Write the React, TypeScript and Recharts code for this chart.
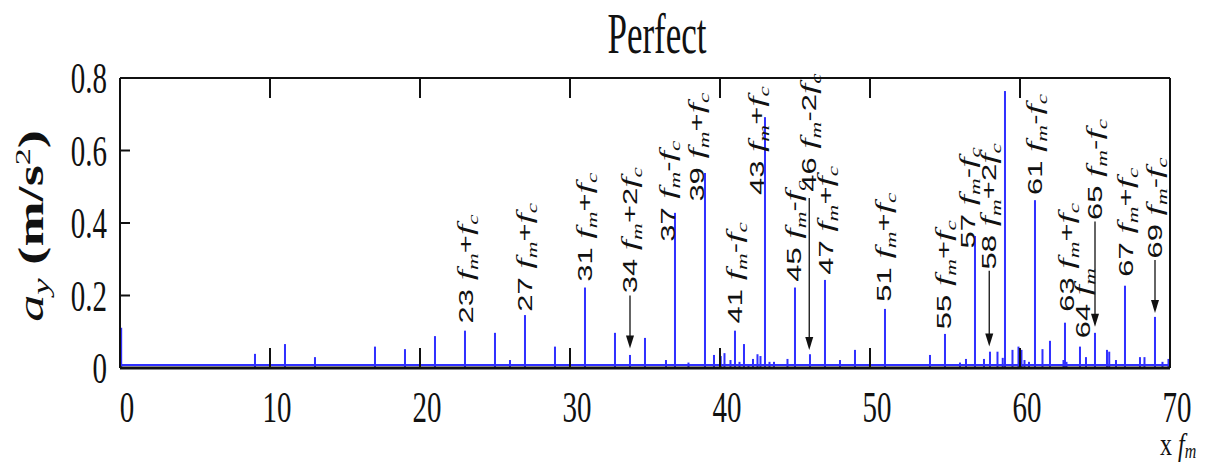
import React from 'react';
import { ComposedChart, Bar, Scatter, XAxis, YAxis, ReferenceLine } from 'recharts';

// axis ticks
const xTicks = [0, 10, 20, 30, 40, 50, 60, 70];
const yTicks = [0, 0.2, 0.4, 0.6, 0.8];
const yTickLabels = ['0', '0.2', '0.4', '0.6', '0.8'];

// spectrum lines, x in multiples of f_m, amplitude in m/s^2
const peakX = [
  0.08, 9, 11, 13, 17, 19, 21, 23, 25, 26, 27, 29, 31, 33, 34, 35, 36.4, 37, 37.9, 39,
  39.6, 40.05, 40.3, 40.7, 41, 41.3, 41.6, 41.9, 42.2, 42.5, 42.7, 43, 43.3, 43.6, 44.5,
  45, 46, 47, 48, 49, 50, 51, 54, 55, 56, 56.4, 57, 57.6, 58, 58.5, 58.85, 59, 59.5,
  59.9, 60.1, 60.3, 60.6, 61, 61.5, 62, 62.9, 63, 63.1, 64, 64.4, 65, 65.8, 65.95,
  66.4, 67, 68, 68.3, 69, 69.5, 69.9,
];
const peakY = [
  0.111, 0.039, 0.066, 0.03, 0.059, 0.052, 0.088, 0.103, 0.097, 0.022, 0.146, 0.059, 0.222, 0.097, 0.036, 0.083, 0.022, 0.428, 0.015, 0.538,
  0.036, 0.033, 0.041, 0.022, 0.103, 0.017, 0.066, 0.011, 0.025, 0.038, 0.033, 0.692, 0.017, 0.017, 0.025,
  0.222, 0.038, 0.243, 0.022, 0.05, 0.019, 0.163, 0.036, 0.094, 0.015, 0.025, 0.364, 0.025, 0.045, 0.045, 0.028, 0.764, 0.05,
  0.059, 0.05, 0.022, 0.017, 0.463, 0.052, 0.075, 0.022, 0.125, 0.017, 0.059, 0.03, 0.097, 0.05, 0.045,
  0.022, 0.227, 0.03, 0.03, 0.141, 0.017, 0.025,
];

// annotations: harmonic number, sideband term, where the text starts
const annN = [23, 27, 31, 34, 37, 39, 41, 43, 45, 46, 47, 51, 55, 57, 58, 61, 63, 64, 65, 67, 69];
const annTerm = ['+', '+', '+', '+2', '-', '+', '-', '+', '-', '-2', '+', '+', '+', '-', '+2', '-', '+', '', '-', '+', '-'];
const annX = [23.05, 27, 31, 34, 36.5, 38.47, 41.02, 42.45, 44.9, 45.95, 47.05, 50.95, 54.95, 56.5, 57.95, 61, 63.1, 64.2, 65, 67.05, 69];
const annY = [0.123, 0.155, 0.238, 0.206, 0.348, 0.459, 0.123, 0.477, 0.238, 0.486, 0.257, 0.183, 0.107, 0.33, 0.272, 0.477, 0.155, 0.082, 0.408, 0.252, 0.302];

// arrows pointing at the weak lines
const arrowX = [34, 45.95, 57.95, 65, 69];
const arrowFrom = [0.2, 0.469, 0.268, 0.404, 0.298];
const arrowTo = [0.054, 0.05, 0.059, 0.114, 0.152];

const data = peakX.map((x, i) => ({ x, y: peakY[i] }));
const annData = annN.map((n, i) => ({ x: annX[i], y: annY[i], n, term: annTerm[i] }));

const S = 1.55; // the original figure is stretched vertically
const BLUE = '#3030ff';
const INK = '#111';
const SERIF = '"Liberation Serif", "Times New Roman", serif';
const SANS = '"Liberation Sans", Arial, sans-serif';

const BottomTick = (p: any) => {
  const { x, y, payload } = p;
  return (
    <g>
      <line x1={x} x2={x} y1={y} y2={y - 20} stroke={INK} strokeWidth={2} />
      <text transform={`translate(${x + 7},${y + 54}) scale(1,${S})`} textAnchor="middle" fontFamily={SERIF} fontSize={29} fill={INK}>
        {payload.value}
      </text>
    </g>
  );
};

const TopTick = (p: any) => {
  const { x, y } = p;
  return <line x1={x} x2={x} y1={y} y2={y + 20} stroke={INK} strokeWidth={2} />;
};

const LeftTick = (p: any) => {
  const { x, y, payload } = p;
  const label = yTickLabels[yTicks.indexOf(payload.value)];
  return (
    <g>
      <line x1={x} x2={x + 10} y1={y} y2={y} stroke={INK} strokeWidth={2} />
      <text transform={`translate(${x - 13},${y + 15}) scale(1,${S})`} textAnchor="end" fontFamily={SERIF} fontSize={29} fill={INK}>
        {label}
      </text>
    </g>
  );
};

const RightTick = (p: any) => {
  const { x, y } = p;
  return <line x1={x} x2={x - 10} y1={y} y2={y} stroke={INK} strokeWidth={2} />;
};

// thin stem centred on the bar slot
const Stem = (p: any) => {
  const { x, y, width, height } = p;
  if (x == null || y == null) return <g />;
  return <rect x={x + (width || 0) / 2 - 1} y={y} width={2} height={Math.max(height, 0)} fill={BLUE} />;
};

const AnnLabel = (p: any) => {
  const { cx, cy, payload } = p;
  if (cx == null || cy == null) return <g />;
  const term: string = payload.term;
  const sign = term.charAt(0);
  const two = term.length > 1;
  return (
    <text transform={`translate(${cx + 7},${cy}) scale(1,${S}) rotate(-90)`} fontFamily={SANS} fontSize={20} fill={INK}>
      <tspan>{payload.n} </tspan>
      <tspan fontFamily={SERIF} fontStyle="italic" fontSize={24}>f</tspan>
      <tspan fontFamily={SERIF} fontStyle="italic" fontSize={15} dy={5}>m</tspan>
      {term !== '' && (
        <>
          <tspan dy={-5}>{sign === '+' ? '+' : '-'}{two ? '2' : ''}</tspan>
          <tspan fontFamily={SERIF} fontStyle="italic" fontSize={24}>f</tspan>
          <tspan fontFamily={SERIF} fontStyle="italic" fontSize={15} dy={5}>c</tspan>
        </>
      )}
    </text>
  );
};

const ArrowShape = (p: any) => {
  const { x1, y1, x2, y2 } = p;
  return (
    <g>
      <line x1={x1} x2={x2} y1={y1} y2={y2 - 10} stroke={INK} strokeWidth={1.3} />
      <polygon points={`${x2},${y2} ${x2 - 4},${y2 - 13} ${x2 + 4},${y2 - 13}`} fill={INK} />
    </g>
  );
};

export default function App() {
  return (
    <div style={{ position: 'absolute', left: 0, top: 0, width: 1215, height: 468, background: '#fff' }}>
      <ComposedChart width={1215} height={468} data={data} margin={{ top: 77, right: 44, bottom: 99, left: 119 }}>
        <ReferenceLine y={0.008} stroke={BLUE} strokeWidth={2} />
        <Bar dataKey="y" barSize={2} fill={BLUE} shape={(p: any) => <Stem {...p} />} isAnimationActive={false} />
        <Scatter data={annData} dataKey="y" shape={(p: any) => <AnnLabel {...p} />} isAnimationActive={false} />
        {arrowX.map((x, i) => (
          <ReferenceLine
            key={`arrow-${x}`}
            segment={[{ x, y: arrowFrom[i] }, { x, y: arrowTo[i] }]}
            shape={(p: any) => <ArrowShape {...p} />}
            ifOverflow="visible"
          />
        ))}
        <XAxis
          dataKey="x"
          type="number"
          domain={[0, 70]}
          ticks={xTicks}
          height={1}
          tickSize={0}
          tickMargin={0}
          tick={<BottomTick />}
          axisLine={{ stroke: INK, strokeWidth: 3 }}
        />
        <XAxis
          xAxisId="top"
          orientation="top"
          dataKey="x"
          type="number"
          domain={[0, 70]}
          ticks={xTicks}
          height={1}
          tickSize={0}
          tickMargin={0}
          tick={<TopTick />}
          axisLine={{ stroke: INK, strokeWidth: 2 }}
        />
        <YAxis
          dataKey="y"
          type="number"
          domain={[0, 0.8]}
          ticks={yTicks}
          width={1}
          tickSize={0}
          tickMargin={0}
          tick={<LeftTick />}
          axisLine={{ stroke: INK, strokeWidth: 2 }}
        />
        <YAxis
          yAxisId="right"
          orientation="right"
          type="number"
          domain={[0, 0.8]}
          ticks={yTicks}
          width={1}
          tickSize={0}
          tickMargin={0}
          tick={<RightTick />}
          axisLine={{ stroke: INK, strokeWidth: 2 }}
        />
      </ComposedChart>
      <svg width={1215} height={468} style={{ position: 'absolute', left: 0, top: 0, pointerEvents: 'none' }}>
        <text transform={`translate(657,53) scale(1,1.6)`} textAnchor="middle" fontFamily={SERIF} fontSize={35} fill={INK}>
          Perfect
        </text>
        <text transform={`translate(43,226) scale(1,${S}) rotate(-90)`} textAnchor="middle" fontFamily={SERIF} fontSize={35} fill={INK}>
          <tspan fontStyle="italic">a</tspan>
          <tspan fontStyle="italic" fontSize={24} dy={6}>y</tspan>
          <tspan fontWeight="bold" dy={-6}> (m/s</tspan>
          <tspan fontSize={22} dy={-13}>2</tspan>
          <tspan fontWeight="bold" dy={13}>)</tspan>
        </text>
        <text transform={`translate(1160,455) scale(1,1.35)`} fontFamily={SERIF} fontSize={24} fill={INK}>
          x{' '}
          <tspan fontStyle="italic">f</tspan>
          <tspan fontStyle="italic" fontSize={16} dy={2}>m</tspan>
        </text>
      </svg>
    </div>
  );
}
